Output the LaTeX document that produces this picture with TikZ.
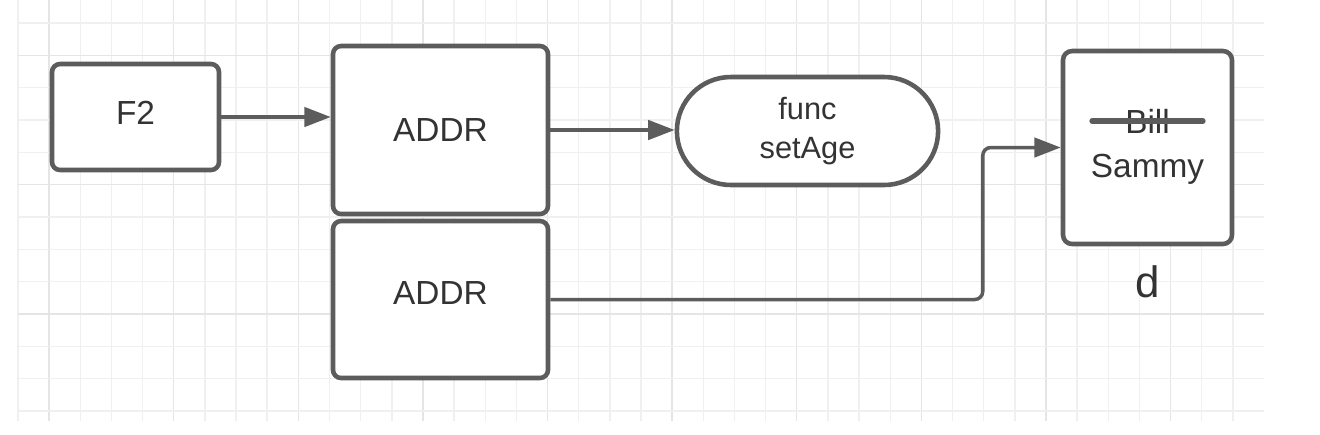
\documentclass[tikz,border=0pt]{standalone}
\usepackage{fontspec}
\setmainfont{Liberation Sans}
\usetikzlibrary{arrows.meta,shapes.misc}
\definecolor{linegray}{HTML}{5C5C5C}
\definecolor{textgray}{HTML}{333333}

\begin{document}
\begin{tikzpicture}[x=0.02cm,y=-0.02cm,
    box/.style={draw=linegray,line width=2.6pt,rounded corners=0.16cm,fill=white,text=textgray,font=\boxfontsize},
    link/.style={draw=linegray,line width=2pt,-{Triangle[length=15pt,width=11pt]}},
    strike/.style={draw=linegray,line width=3pt,line cap=round}]
    \pgfmathsetmacro{\gridleft}{18}
    \pgfmathsetmacro{\gridright}{1264}
    \pgfmathsetmacro{\gridbottom}{421}
    \pgfmathsetmacro{\colstep}{31.15}
    \pgfmathsetmacro{\rowstep}{32.33}
    \providecommand{\boxfontsize}{\fontsize{19}{23}\selectfont}
    \providecommand{\funcfontsize}{\fontsize{17.5}{22}\selectfont}
    \providecommand{\labelfontsize}{\fontsize{25}{30}\selectfont}
    \useasboundingbox (0,0) rectangle (1320,434);
    % grid, every fourth line a bit darker
    \foreach \i in {0,...,39} {
        \pgfmathtruncatemacro{\shade}{mod(\i,4)==1 ? 10 : 6}
        \draw[black!\shade,line width=0.8pt] (\gridleft+\i*\colstep,0) -- (\gridleft+\i*\colstep,\gridbottom);
    }
    \foreach \j in {0,...,12} {
        \pgfmathtruncatemacro{\shade}{mod(\j,4)==1 ? 10 : 6}
        \draw[black!\shade,line width=0.8pt] (\gridleft,23+\j*\rowstep) -- (\gridright,23+\j*\rowstep);
    }
    \node[box,minimum width=3.34cm,minimum height=2.12cm,text depth=0.18cm] (ftwo) at (135.5,117) {F2};
    \node[box,minimum width=4.3cm,minimum height=3.36cm] (addrtop) at (440.5,130) {ADDR};
    \node[box,minimum width=4.3cm,minimum height=3.14cm,text depth=0.26cm] (addrbot) at (440.5,299.5) {ADDR};
    \node[box,rounded rectangle,sharp corners,minimum width=5.46cm,minimum height=2.16cm,align=center,font=\funcfontsize] (setage) at (807.5,131) {func\\setAge};
    \node[box,rounded corners=0.18cm,minimum width=3.38cm,minimum height=3.86cm] (sammy) at (1147.5,147.5) {};
    \node[anchor=base,text=textgray,font=\boxfontsize] (bill) at (1147.5,133) {Bill};
    \node[anchor=base,text=textgray,font=\boxfontsize] (newname) at (1147.5,177) {Sammy};
    \draw[strike] ([xshift=-1.11cm,yshift=0.24cm]bill.base) -- ([xshift=1.11cm,yshift=0.24cm]bill.base);
    \node[anchor=base,text=textgray,font=\labelfontsize] (varname) at (1148,297) {d};
    \draw[link] (ftwo.east) -- (ftwo.east -| addrtop.west);
    \draw[link] (addrtop.east) -- (addrtop.east -| setage.west);
    \draw[link,rounded corners=0.16cm] (addrbot.east) -| ([xshift=-1.56cm]sammy.west) -- (sammy.west);
\end{tikzpicture}
\end{document}
